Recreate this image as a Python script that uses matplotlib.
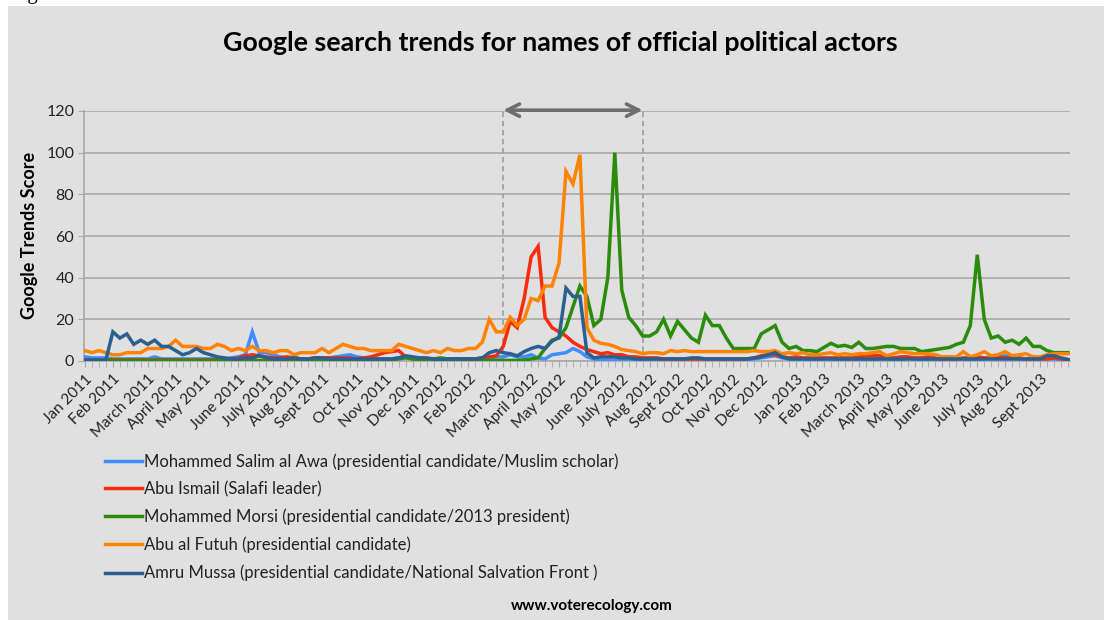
import matplotlib
matplotlib.use("Agg")
import matplotlib.pyplot as plt
from matplotlib.lines import Line2D
from matplotlib.patches import Rectangle
from matplotlib.ticker import MultipleLocator

plt.rcParams['font.family'] = ['Lato', 'DejaVu Sans']

# weekly Google Trends scores, Jan 2011 - Sept 2013 (one value per week)
awa = [2, 1.5, 1.5, 1.5, 1, 1, 1, 1, 1, 1,
       2, 1, 1, 1, 1, 1, 1, 1, 1, 1,
       1, 1.5, 2, 3, 14, 4, 4, 3, 2, 1.5,
       1.5, 1, 1, 1, 1.5, 1.5, 2, 2.5, 3, 2,
       1.5, 1, 1, 1, 1, 1.5, 2, 1.5, 1.5, 1,
       1, 1, 1, 1, 1, 1, 1, 1.5, 1.5, 2,
       2, 3, 2, 2, 3, 1.5, 1, 3, 3.5, 4,
       6, 4.5, 2, 1, 0.5, 0.5, 0.5, 1, 0.5, 0.5,
       0.5, 0.5, 1, 0.5, 0.5, 0.5, 1, 0.5, 0.5, 0.5,
       0.5, 0.5, 0.5, 0.5, 0.5, 0.5, 1, 1.5, 2, 2.5,
       1.5, 1, 1, 1, 0.5, 0.5, 1, 1, 0.5, 0.5,
       1, 0.5, 0.5, 0.5, 1, 1, 0.5, 0.5, 1.5, 1,
       0.5, 0.5, 0.5, 1, 1, 1, 1, 0.5, 0.5, 1,
       1.5, 2, 2.5, 2, 1, 1, 1.5, 1, 1, 1,
       0.5, 0.5]

ismail = [0.5, 0.5, 0.5, 0.5, 0.5, 0.5, 0.5, 0.5, 0.5, 0.5,
          0.5, 0.5, 0.5, 0.5, 0.5, 0.5, 0.5, 0.5, 0.5, 1,
          1, 1, 1.5, 2.5, 3, 2.5, 2, 1.5, 1.5, 2,
          1.5, 1, 1, 1.5, 1.5, 1.5, 1.5, 1.5, 1.5, 1,
          1.5, 2, 3, 4, 4.5, 5, 2, 1, 1, 1,
          1, 1, 1, 1, 1, 1, 1, 1.5, 2, 2.5,
          7, 19, 16, 30, 50, 55, 21, 16, 14, 12,
          9, 7, 5.5, 4.5, 3.5, 4, 3, 3, 2, 2,
          1.5, 1.5, 1.5, 1, 1, 1, 1, 1, 1, 1,
          1, 1, 1, 1, 1, 1, 1.5, 2.5, 3, 3,
          2, 1.5, 2, 1.5, 1.5, 1.5, 1.5, 1.5, 1.5, 1.5,
          1.5, 2, 2.5, 2.5, 2.5, 1.5, 1.5, 2, 2, 1.5,
          1.5, 2, 1.5, 1, 1, 1, 1.5, 1.5, 2, 1.5,
          1.5, 2, 1.5, 1.5, 1.5, 1, 1, 1, 1, 1.5,
          1, 0.5]

morsi = [0.3, 0.3, 0.3, 0.3, 0.3, 0.3, 0.3, 0.3, 0.3, 0.3,
         0.3, 0.3, 0.3, 0.3, 0.3, 0.3, 0.3, 0.3, 0.3, 0.3,
         0.3, 0.3, 0.3, 0.3, 0.3, 0.3, 0.3, 0.3, 0.3, 0.3,
         0.3, 0.3, 0.3, 0.3, 0.3, 0.3, 0.3, 0.3, 0.3, 0.3,
         0.3, 0.3, 0.3, 0.3, 0.5, 1, 1.5, 1, 0.5, 0.5,
         1, 1.5, 1, 0.5, 0.5, 0.3, 0.3, 0.3, 0.3, 0.3,
         0.3, 0.3, 0.3, 0.5, 1, 1.5, 6, 10, 11, 16,
         26, 36, 31, 17, 20, 40, 100, 34, 21, 17,
         12, 12, 14, 20, 12, 19, 15, 11, 9, 22,
         17, 17, 11, 6, 6, 6, 6, 13, 15, 17,
         9, 6, 7, 5, 5, 4.5, 6.5, 8.5, 7, 7.5,
         6.5, 9, 6, 6, 6.5, 7, 7, 6, 6, 6,
         4.5, 5, 5.5, 6, 6.5, 8, 9, 17, 51, 20,
         11, 12, 9, 10, 8, 11, 7, 7, 5, 4,
         4, 4]

futuh = [5, 4, 5, 4, 3, 3, 4, 4, 4, 6,
         6, 6, 7, 10, 7, 7, 7, 6, 6, 8,
         7, 5, 6, 5, 7, 5, 5, 4, 5, 5,
         3, 4, 4, 4, 6, 4, 6, 8, 7, 6,
         6, 5, 5, 5, 5, 8, 7, 6, 5, 4,
         5, 4, 6, 5, 5, 6, 6, 9, 20, 14,
         14, 21, 17, 20, 30, 29, 36, 36, 47, 91,
         85, 99, 16, 10, 8.5, 8, 7, 5.5, 5, 4.5,
         3.5, 4, 4, 3.5, 5, 4.5, 5, 4.5, 4.5, 4.5,
         4.5, 4.5, 4.5, 4.5, 4.5, 4.5, 5, 4.5, 4.5, 5,
         3.5, 4, 3.5, 4, 3, 3, 3.5, 4, 3, 3.5,
         3, 3.5, 3.5, 4, 4.5, 2.5, 3.5, 4.5, 4, 3.5,
         3.5, 3.5, 3, 2, 2, 2, 4.5, 2, 3, 4.5,
         2.5, 3, 4.5, 2.5, 3, 3.5, 2, 2, 3, 3.5,
         3.5, 3.5]

mussa = [0.5, 0.5, 0.5, 0.5, 14, 11, 13, 8, 10, 8,
         10, 7, 7, 5, 3, 4, 6, 4, 3, 2,
         1.5, 1, 1, 1.5, 1.5, 2.5, 1.5, 1, 1, 1,
         1.5, 1, 1, 1.5, 1.5, 1, 1, 1, 1, 1,
         1, 1, 1, 1, 1, 1.5, 2.5, 2, 1.5, 1.5,
         1, 0.5, 1, 1, 1, 1, 1, 1.5, 4, 5,
         4, 3.5, 2.5, 4.5, 6, 7, 6, 9.5, 11.5, 35,
         31, 31, 4, 1.5, 2, 2, 2, 1.5, 1.5, 1,
         1, 1, 1, 1, 1, 1, 1, 1.5, 1.5, 1,
         1, 1, 1, 1, 1, 1, 1.5, 2, 3, 4,
         2, 1, 1, 1, 1, 1, 1, 1, 1, 1,
         1, 1, 1, 1, 1, 1, 1, 1, 1, 1,
         1, 1, 1, 1, 1, 1, 1, 1, 1, 1,
         1, 1, 1, 1, 1, 1, 1, 1, 2.5, 2.5,
         1.5, 0.8]

series_names = ["Mohammed Salim al Awa (presidential candidate/Muslim scholar)",
                "Abu Ismail (Salafi leader)",
                "Mohammed Morsi (presidential candidate/2013 president)",
                "Abu al Futuh (presidential candidate)",
                "Amru Mussa (presidential candidate/National Salvation Front )"]
series_colors = ["#418cff", "#fa2a0a", "#2b8c0c", "#ff8200", "#2b5f8f"]

# month labels and the week they sit on
month_labels = ["Jan 2011", "Feb 2011", "March 2011", "April 2011", "May 2011",
                "June 2011", "July 2011", "Aug 2011", "Sept 2011", "Oct 2011",
                "Nov 2011", "Dec 2011", "Jan 2012", "Feb 2012", "March 2012",
                "April 2012", "May 2012", "June 2012", "July 2012", "Aug 2012",
                "Sept 2012", "Oct 2012", "Nov 2012", "Dec 2012", "Jan 2013",
                "Feb 2013", "March 2013", "April 2013", "May 2013", "June 2013",
                "July 2013", "Aug 2012", "Sept 2013"]
month_weeks = [0, 4, 9, 13, 17, 22, 26, 30, 34, 39, 43, 47, 51, 55, 60, 64, 68,
               73, 77, 81, 85, 89, 93, 97, 102, 106, 111, 115, 119, 123, 128,
               132, 137]

# election window marked with the arrow
window_start, window_end = 60, 80

W, H = 1104, 620
fig = plt.figure(figsize=(W / 100, H / 100), dpi=100, facecolor="white")
fig.patches.append(Rectangle((8 / W, 0), 1, 1 - 6 / H, transform=fig.transFigure,
                             facecolor="#e0e0e0", edgecolor="none", zorder=-10))
# caption of the source page, cut off at the top edge as in the original
fig.text(10 / W, 1 + 1 / H, "Figure 6", fontsize=15, family="Liberation Serif",
         va="baseline", ha="left", color="black")

ax = fig.add_axes([84 / W, 1 - 361 / H, 986 / W, 250 / H])
ax.set_facecolor("none")

weeks = list(range(len(awa)))
for vals, name, col in zip([awa, ismail, morsi, futuh, mussa], series_names, series_colors):
    ax.plot(weeks, vals, color=col, lw=2.5, label=name, solid_joinstyle="miter", zorder=3)

ax.set_xlim(-0.14, 141.3)
ax.set_ylim(0, 120)
ax.set_yticks(range(0, 121, 20))
ax.yaxis.grid(True, color="#a8a8a8", lw=1.2)
ax.set_axisbelow(True)
for s in ["top", "right"]:
    ax.spines[s].set_visible(False)
for s in ["left", "bottom"]:
    ax.spines[s].set_color("#a8a8a8")
    ax.spines[s].set_linewidth(1.2)

ax.set_xticks(month_weeks)
ax.set_xticklabels(month_labels, rotation=45, ha="right", rotation_mode="anchor",
                   fontsize=11, color="#222222")
ax.xaxis.set_minor_locator(MultipleLocator(1))
ax.tick_params(axis="x", which="both", length=4, color="#a8a8a8", pad=4)
ax.tick_params(axis="y", length=4, color="#a8a8a8", labelsize=11.5, labelcolor="#222222", pad=3)

ax.vlines([window_start, window_end], 0, 120, colors="#a4a4a4", linestyles=(0, (3, 2)), lw=1.3, zorder=2)
ax.annotate("", xy=(window_start, 120.4), xytext=(window_end, 120.4),
            arrowprops=dict(arrowstyle="<->", color="#6e6e6e", lw=2.6,
                            mutation_scale=22, shrinkA=0, shrinkB=0),
            annotation_clip=False, zorder=5)

fig.text(560 / W, 1 - 43 / H, "Google search trends for names of official political actors",
         fontsize=19.3, fontweight="bold", ha="center", va="center")
fig.text(30 / W, 1 - 235 / H, "Google Trends Score", fontsize=13, fontweight="bold",
         rotation=90, ha="center", va="center")
fig.text(592 / W, 1 - 606 / H, "www.voterecology.com", fontsize=11, fontweight="bold",
         ha="center", va="center")

handles = [Line2D([], [], color=c, lw=2.5) for c in series_colors]
fig.legend(handles, series_names, loc="upper left", bbox_to_anchor=(105 / W, 1 - 453 / H),
           frameon=False, fontsize=12, handlelength=2.2, handletextpad=0.15,
           labelspacing=0.69, borderaxespad=0, borderpad=0, labelcolor="#222222")

fig.savefig("out.png", dpi=100, facecolor=fig.get_facecolor())
